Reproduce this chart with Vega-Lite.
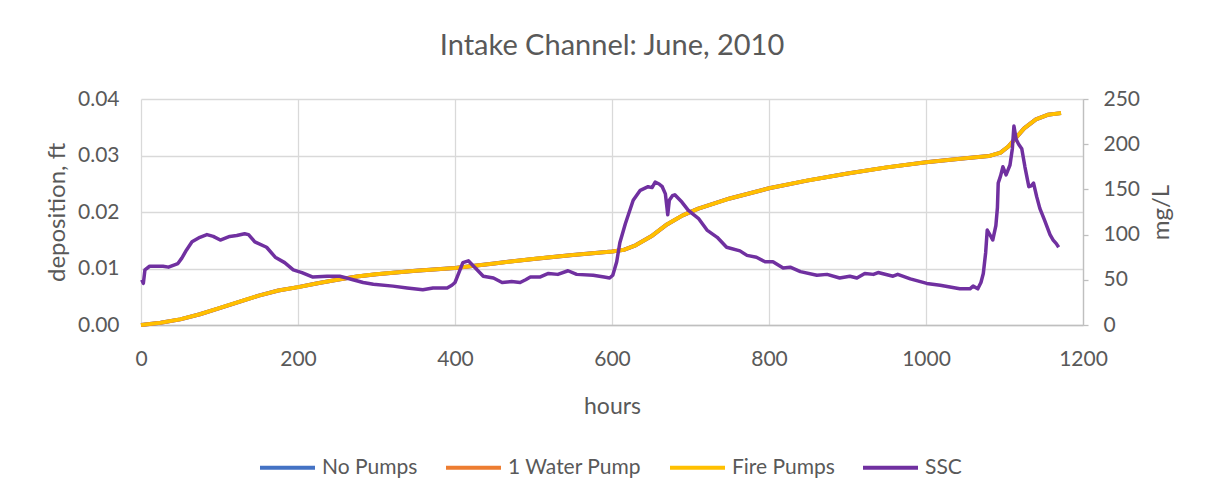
{
  "$schema": "https://vega.github.io/schema/vega-lite/v6.json",
  "width": 942,
  "height": 226,
  "autosize": "none",
  "padding": {"left": 141, "top": 99, "right": 124, "bottom": 177},
  "background": "white",
  "config": {
    "font": "Lato",
    "view": {"stroke": null},
    "axis": {"labelColor": "#595959", "titleColor": "#595959", "labelFontSize": 21, "titleFontSize": 24, "titleFontWeight": "normal", "gridColor": "#d9d9d9", "gridWidth": 1.3, "domainColor": "#bfbfbf", "domainWidth": 1.3, "tickColor": "#bfbfbf", "tickWidth": 1.3}
  },
  "title": {"text": "Intake Channel: June, 2010", "fontSize": 29, "fontWeight": "normal", "color": "#595959", "anchor": "middle", "offset": 27},
  "datasets": {
    "dep": [
      {"h": 0, "v": 0.0000}, {"h": 25, "v": 0.0004}, {"h": 50, "v": 0.0010}, {"h": 75, "v": 0.0019},
      {"h": 100, "v": 0.0030}, {"h": 125, "v": 0.0041}, {"h": 150, "v": 0.0052}, {"h": 175, "v": 0.0061},
      {"h": 200, "v": 0.0067}, {"h": 225, "v": 0.0074}, {"h": 250, "v": 0.0080}, {"h": 275, "v": 0.0086},
      {"h": 300, "v": 0.0090}, {"h": 350, "v": 0.0096}, {"h": 400, "v": 0.0101}, {"h": 450, "v": 0.0109},
      {"h": 500, "v": 0.0117}, {"h": 550, "v": 0.0124}, {"h": 600, "v": 0.0130}, {"h": 615, "v": 0.0133},
      {"h": 630, "v": 0.0141}, {"h": 650, "v": 0.0157}, {"h": 670, "v": 0.0178}, {"h": 690, "v": 0.0194},
      {"h": 710, "v": 0.0206}, {"h": 750, "v": 0.0224}, {"h": 800, "v": 0.0242}, {"h": 850, "v": 0.0256},
      {"h": 900, "v": 0.0268}, {"h": 950, "v": 0.0279}, {"h": 1000, "v": 0.0288}, {"h": 1050, "v": 0.0295},
      {"h": 1080, "v": 0.0299}, {"h": 1095, "v": 0.0305}, {"h": 1105, "v": 0.0316}, {"h": 1115, "v": 0.0332},
      {"h": 1125, "v": 0.0348}, {"h": 1140, "v": 0.0364}, {"h": 1155, "v": 0.0372}, {"h": 1172, "v": 0.0375}
    ],
    "ssc": [
      {"h": 1, "v": 50}, {"h": 3, "v": 46}, {"h": 5, "v": 61}, {"h": 11, "v": 65}, {"h": 28, "v": 65}, {"h": 35, "v": 64},
      {"h": 41, "v": 66}, {"h": 47, "v": 68}, {"h": 52, "v": 74}, {"h": 58, "v": 83}, {"h": 65, "v": 92}, {"h": 75, "v": 97},
      {"h": 84, "v": 100}, {"h": 92, "v": 98}, {"h": 101, "v": 94}, {"h": 113, "v": 98}, {"h": 122, "v": 99}, {"h": 132, "v": 101},
      {"h": 137, "v": 100}, {"h": 145, "v": 92}, {"h": 160, "v": 86}, {"h": 171, "v": 75}, {"h": 183, "v": 69}, {"h": 194, "v": 61},
      {"h": 205, "v": 58}, {"h": 219, "v": 53}, {"h": 237, "v": 54}, {"h": 253, "v": 54}, {"h": 262, "v": 52}, {"h": 270, "v": 50},
      {"h": 283, "v": 47}, {"h": 296, "v": 45}, {"h": 321, "v": 43}, {"h": 339, "v": 41}, {"h": 359, "v": 39}, {"h": 372, "v": 41},
      {"h": 390, "v": 41}, {"h": 396, "v": 44}, {"h": 400, "v": 47}, {"h": 405, "v": 58}, {"h": 410, "v": 69}, {"h": 417, "v": 71},
      {"h": 425, "v": 64}, {"h": 436, "v": 54}, {"h": 449, "v": 52}, {"h": 460, "v": 47}, {"h": 472, "v": 48}, {"h": 483, "v": 47},
      {"h": 490, "v": 50}, {"h": 496, "v": 53}, {"h": 508, "v": 53}, {"h": 519, "v": 57}, {"h": 531, "v": 56}, {"h": 544, "v": 60},
      {"h": 555, "v": 56}, {"h": 576, "v": 55}, {"h": 590, "v": 53}, {"h": 597, "v": 52}, {"h": 601, "v": 55}, {"h": 606, "v": 70},
      {"h": 610, "v": 91}, {"h": 617, "v": 112}, {"h": 627, "v": 138}, {"h": 636, "v": 149}, {"h": 646, "v": 153}, {"h": 651, "v": 152},
      {"h": 655, "v": 158}, {"h": 660, "v": 156}, {"h": 664, "v": 153}, {"h": 668, "v": 145}, {"h": 670, "v": 130}, {"h": 671, "v": 122},
      {"h": 673, "v": 138}, {"h": 677, "v": 143}, {"h": 680, "v": 144}, {"h": 689, "v": 136}, {"h": 697, "v": 127}, {"h": 704, "v": 122},
      {"h": 710, "v": 118}, {"h": 721, "v": 105}, {"h": 734, "v": 97}, {"h": 746, "v": 86}, {"h": 763, "v": 82}, {"h": 772, "v": 77},
      {"h": 784, "v": 75}, {"h": 795, "v": 70}, {"h": 805, "v": 70}, {"h": 818, "v": 63}, {"h": 827, "v": 64}, {"h": 840, "v": 59},
      {"h": 861, "v": 55}, {"h": 874, "v": 56}, {"h": 890, "v": 52}, {"h": 903, "v": 54}, {"h": 912, "v": 52}, {"h": 922, "v": 57},
      {"h": 933, "v": 56}, {"h": 939, "v": 58}, {"h": 958, "v": 54}, {"h": 964, "v": 56}, {"h": 980, "v": 51}, {"h": 1001, "v": 46},
      {"h": 1018, "v": 44}, {"h": 1043, "v": 40}, {"h": 1056, "v": 40}, {"h": 1060, "v": 43}, {"h": 1066, "v": 40}, {"h": 1070, "v": 47},
      {"h": 1073, "v": 57}, {"h": 1076, "v": 80}, {"h": 1078, "v": 105}, {"h": 1082, "v": 99}, {"h": 1085, "v": 94}, {"h": 1089, "v": 110},
      {"h": 1091, "v": 130}, {"h": 1092, "v": 157}, {"h": 1095, "v": 165}, {"h": 1098, "v": 175}, {"h": 1102, "v": 166}, {"h": 1107, "v": 177},
      {"h": 1110, "v": 195}, {"h": 1112, "v": 220}, {"h": 1115, "v": 205}, {"h": 1118, "v": 200}, {"h": 1122, "v": 195}, {"h": 1126, "v": 175},
      {"h": 1131, "v": 153}, {"h": 1134, "v": 154}, {"h": 1137, "v": 157}, {"h": 1141, "v": 142}, {"h": 1145, "v": 129}, {"h": 1151, "v": 116},
      {"h": 1158, "v": 100}, {"h": 1162, "v": 94}, {"h": 1166, "v": 90}, {"h": 1169, "v": 86}
    ]
  },
  "layer": [
    {
      "layer": [
        {
          "data": {"name": "dep"},
          "mark": {"type": "line", "strokeWidth": 4, "strokeJoin": "round"},
          "encoding": {
            "x": {"field": "h", "type": "quantitative", "scale": {"domain": [0, 1200], "nice": false},
              "axis": {"title": "hours", "values": [0, 200, 400, 600, 800, 1000, 1200], "format": "d", "labelFlush": false, "grid": true, "ticks": false, "labelPadding": 23, "titlePadding": 26, "titleFontSize": 23}},
            "y": {"field": "v", "type": "quantitative", "scale": {"domain": [0, 0.04], "nice": false},
              "axis": {"title": "deposition, ft", "values": [0, 0.01, 0.02, 0.03, 0.04], "format": ".2f", "labelFlush": false, "grid": true, "ticks": false, "domain": false, "labelPadding": 22, "titlePadding": 8}},
            "color": {"datum": "No Pumps", "type": "nominal",
              "scale": {"domain": ["No Pumps", "1 Water Pump", "Fire Pumps", "SSC"], "range": ["#4472C4", "#ED7D31", "#FFC000", "#7030A0"]},
              "legend": {"title": null, "orient": "none", "direction": "horizontal", "legendX": 117, "legendY": 339, "symbolType": "stroke", "symbolSize": 3025, "symbolStrokeWidth": 4, "labelFontSize": 21, "labelColor": "#595959", "labelOffset": 5, "columnPadding": 20}}
          }
        },
        {
          "data": {"name": "dep"},
          "mark": {"type": "line", "strokeWidth": 4, "strokeJoin": "round"},
          "encoding": {
            "x": {"field": "h", "type": "quantitative"},
            "y": {"field": "v", "type": "quantitative"},
            "color": {"datum": "1 Water Pump", "type": "nominal"}
          }
        },
        {
          "data": {"name": "dep"},
          "mark": {"type": "line", "strokeWidth": 3.6, "strokeJoin": "round"},
          "encoding": {
            "x": {"field": "h", "type": "quantitative"},
            "y": {"field": "v", "type": "quantitative"},
            "color": {"datum": "Fire Pumps", "type": "nominal"}
          }
        }
      ]
    },
    {
      "data": {"name": "ssc"},
      "mark": {"type": "line", "strokeWidth": 3.5, "strokeJoin": "round"},
      "encoding": {
        "x": {"field": "h", "type": "quantitative"},
        "y": {"field": "v", "type": "quantitative", "scale": {"domain": [0, 250], "nice": false},
          "axis": {"orient": "right", "title": "mg/L", "values": [0, 50, 100, 150, 200, 250], "labelFlush": false, "grid": false, "ticks": true, "tickSize": 5, "domain": true, "labelPadding": 15, "titleAngle": 270, "titleBaseline": "top", "titlePadding": 10}},
        "color": {"datum": "SSC", "type": "nominal"}
      }
    }
  ],
  "resolve": {"scale": {"y": "independent"}}
}
